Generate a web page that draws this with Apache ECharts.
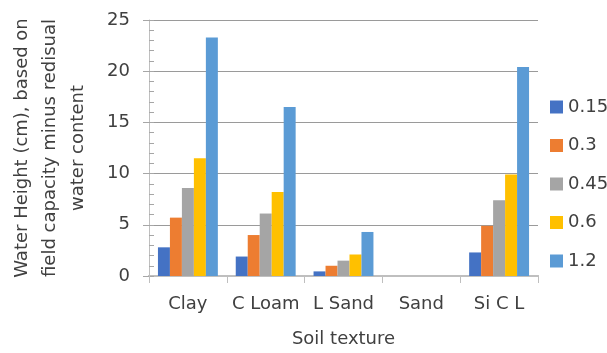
<!DOCTYPE html>
<html>
<head>
<meta charset="utf-8">
<script src="https://cdn.jsdelivr.net/npm/echarts@6/dist/echarts.min.js"></script>
<style>
  html, body { margin: 0; padding: 0; background: #fff; }
  #chart { width: 607px; height: 353px; }
</style>
</head>
<body>
<div id="chart"></div>
<script>
// Soil textures on the category axis
const categories = ['Clay', 'C Loam', 'L Sand', 'Sand', 'Si C L'];
// One series per depth value shown in the legend
const seriesNames = ['0.15', '0.3', '0.45', '0.6', '1.2'];
const s015 = [2.8, 1.9, 0.45, 0, 2.3];
const s03 = [5.7, 4.0, 1.0, 0, 4.9];
const s045 = [8.6, 6.1, 1.5, 0, 7.4];
const s06 = [11.5, 8.2, 2.1, 0, 9.9];
const s12 = [23.3, 16.5, 4.3, 0, 20.4];
const yTicks = [0, 5, 10, 15, 20, 25];

const colors = ['#4472C4', '#ED7D31', '#A5A5A5', '#FFC000', '#5B9BD5'];
const values = [s015, s03, s045, s06, s12];
const FONT = 'DejaVu Sans';
const TXT = '#404040';

const chart = echarts.init(document.getElementById('chart'), null, { renderer: 'canvas' });

chart.setOption({
  animation: false,
  color: colors,
  textStyle: { fontFamily: FONT },
  grid: { left: 148, right: 69, top: 20, bottom: 73 },
  legend: {
    orient: 'vertical',
    left: 545,
    top: 93,
    itemWidth: 13,
    itemHeight: 13,
    itemGap: 20.5,
    icon: 'rect',
    textStyle: { fontSize: 18, color: TXT, fontFamily: FONT },
    data: seriesNames
  },
  xAxis: [{
    type: 'category',
    data: categories,
    name: 'Soil texture',
    nameLocation: 'middle',
    nameGap: 54,
    nameTextStyle: { fontSize: 18, color: TXT, fontFamily: FONT },
    axisLine: { lineStyle: { color: '#BFBFBF', width: 2 } },
    axisTick: { show: true, length: 7, lineStyle: { color: '#BFBFBF', width: 1 } },
    axisLabel: { interval: 0, fontSize: 18, color: TXT, margin: 19, fontFamily: FONT },
    splitLine: { show: false }
  }, {
    // top border line of the plot area
    type: 'category',
    position: 'top',
    data: categories,
    axisLine: { show: true, lineStyle: { color: '#BFBFBF', width: 2 } },
    axisTick: { show: false },
    axisLabel: { show: false }
  }],
  yAxis: [{
    type: 'value',
    min: yTicks[0],
    max: yTicks[yTicks.length - 1],
    interval: 5,
    name: 'Water Height (cm), based on\nfield capacity minus redisual\nwater content',
    nameLocation: 'middle',
    nameGap: 57,
    nameTextStyle: { fontSize: 18, color: TXT, lineHeight: 28, fontFamily: FONT, align: 'center' },
    axisLine: { show: true, lineStyle: { color: '#BFBFBF', width: 1 } },
    axisTick: { show: true, length: 6, lineStyle: { color: '#A6A6A6' } },
    axisLabel: { fontSize: 18, color: TXT, margin: 19, fontFamily: FONT },
    splitLine: { show: true, lineStyle: { color: '#9A9A9A', width: 1 } }
  }, {
    // inner minor ticks every unit
    type: 'value',
    position: 'left',
    min: 0,
    max: 25,
    interval: 1,
    axisLine: { show: false },
    axisTick: { show: true, inside: true, length: 5, lineStyle: { color: '#A6A6A6' } },
    axisLabel: { show: false },
    splitLine: { show: false }
  }],
  series: seriesNames.map((name, i) => ({
    name,
    type: 'bar',
    xAxisIndex: 0,
    yAxisIndex: 0,
    data: values[i],
    barGap: '0%',
    barCategoryGap: '23%',
    itemStyle: { color: colors[i] }
  }))
});
</script>
</body>
</html>
